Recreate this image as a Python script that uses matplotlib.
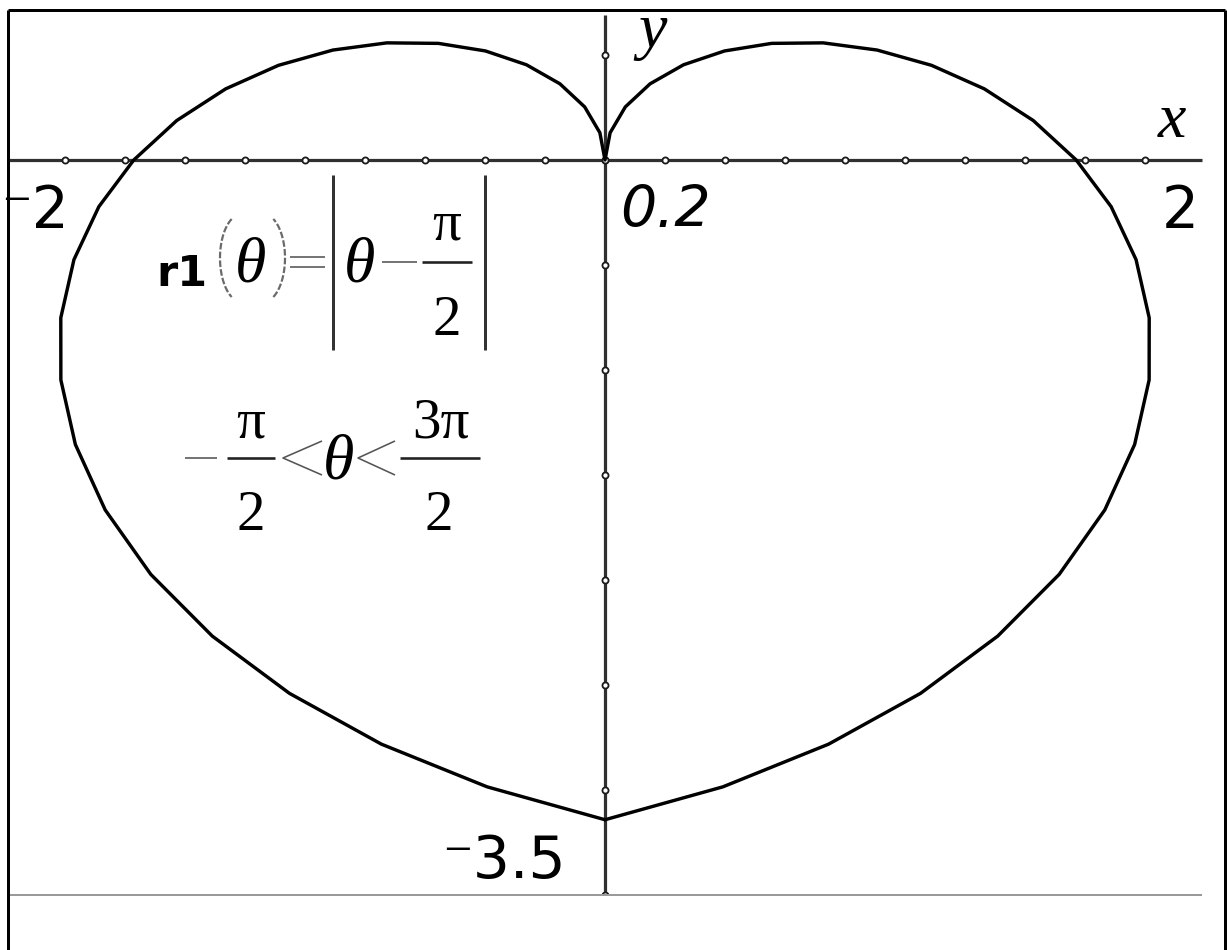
import numpy as np
import matplotlib
matplotlib.use("Agg")
import matplotlib.pyplot as plt
from matplotlib.lines import Line2D

# ---- data: polar curve r1(theta) = |theta - pi/2|, -pi/2 < theta < 3pi/2 ----
theta_min = -np.pi / 2
theta_max = 3 * np.pi / 2
theta_step = np.pi / 24          # calculator default step
x_window = [-2, 2]
y_window = [-3.5, 0.7]
x_scale = 0.2
y_scale = 0.5
x_end_labels = ["\u207b2", "2"]
y_labels = ["0.2", "\u207b3.5"]

theta = np.arange(theta_min, theta_max + theta_step / 2, theta_step)
r = np.abs(theta - np.pi / 2)
xs = r * np.cos(theta)
ys = r * np.sin(theta)

W, H = 1227, 950
fig = plt.figure(figsize=(W / 100, H / 100), dpi=100)
fig.patch.set_facecolor("white")

def fx(x):
    return x / W

def fy(y):
    return 1 - y / H

def pxlw(p):
    return p * 72 / 100

def fline(xx, yy, color="black", lw=2.0, ls="-", z=5):
    fig.add_artist(Line2D([fx(v) for v in xx], [fy(v) for v in yy],
                          color=color, lw=pxlw(lw), ls=ls, zorder=z,
                          solid_capstyle="butt"))

ax = fig.add_axes([5 / W, 55 / H, 1200 / W, 882 / H])
ax.set_xlim(*x_window)
ax.set_ylim(*y_window)
ax.axis("off")

# axes
ax.plot([-1.99, 1.99], [0, 0], color="#303030", lw=pxlw(3.2), zorder=2,
        solid_capstyle="butt")
ax.plot([0, 0], [-3.5, 0.69], color="#303030", lw=pxlw(3.2), zorder=2,
        solid_capstyle="butt")

# ticks (hollow marks on the axes)
xt = np.arange(-1.8, 1.81, x_scale)
ax.plot(xt, np.zeros_like(xt), ls="none", marker="o", ms=4.4, mfc="white",
        mec="#1a1a1a", mew=1.3, zorder=3)
yt = np.arange(y_window[0], 0.51, y_scale)
ax.plot(np.zeros_like(yt), yt, ls="none", marker="o", ms=4.4, mfc="white",
        mec="#1a1a1a", mew=1.3, zorder=3)

# curve
ax.plot(xs, ys, color="black", lw=pxlw(3.4), zorder=4,
        solid_joinstyle="round", solid_capstyle="round")

# frame and bottom divider
fline([8, 8], [10, 950], lw=3, z=10)
fline([8, 1225], [10, 10], lw=3, z=10)
fline([1225, 1225], [10, 950], lw=3, z=10)
fline([10, 1202], [895, 895], color="#9a9a9a", lw=2)

# axis end labels
sans = "DejaVu Sans"
fig.text(fx(1), fy(228), x_end_labels[0], ha="left", va="baseline",
         fontsize=42, family=sans, zorder=6)
fig.text(fx(1199), fy(228), x_end_labels[1], ha="right", va="baseline",
         fontsize=42, family=sans)
fig.text(fx(620), fy(227), y_labels[0], ha="left", va="baseline",
         fontsize=41, family=sans, style="italic")
fig.text(fx(566), fy(878), y_labels[1], ha="right", va="baseline",
         fontsize=42, family=sans)

serif = "Liberation Serif"
fig.text(fx(1172), fy(137), "x", ha="center", va="baseline", fontsize=46,
         family=serif, style="italic")
fig.text(fx(653), fy(47), "y", ha="center", va="baseline", fontsize=46,
         family=serif, style="italic")

# ---- formula r1(θ)=|θ−π/2| ----
fig.text(fx(156), fy(286), "r1", ha="left", va="baseline", fontsize=31,
         family=sans, weight="bold")
# parentheses (gray, dashed)
t = np.linspace(np.radians(118), np.radians(242), 40)
fline(242 + 22 * np.cos(t), 258 - 39 / np.sin(np.radians(118)) * np.sin(t),
      color="#6a6a6a", lw=2.2, ls=(0, (3, 1)))
t2 = np.linspace(np.radians(-62), np.radians(62), 40)
fline(263 + 22 * np.cos(t2), 258 - 39 / np.sin(np.radians(62)) * np.sin(t2),
      color="#6a6a6a", lw=2.2, ls=(0, (3, 1)))
fig.text(fx(251), fy(282), "\u03b8", ha="center", va="baseline", fontsize=46,
         family=serif, style="italic")
fline([290, 325], [257, 257], color="#555555", lw=1.6)
fline([290, 325], [267, 267], color="#555555", lw=1.6)
fline([333, 333], [175, 350], color="#333333", lw=3)
fig.text(fx(360), fy(282), "\u03b8", ha="center", va="baseline", fontsize=46,
         family=serif, style="italic")
fline([382, 417], [262, 262], color="#555555", lw=1.6)
fline([422, 472], [262, 262], color="#222222", lw=2.6)
fig.text(fx(447), fy(240), "\u03c0", ha="center", va="baseline", fontsize=41,
         family=serif)
fig.text(fx(447), fy(335), "2", ha="center", va="baseline", fontsize=41,
         family=serif)
fline([485, 485], [175, 350], color="#333333", lw=3)

# ---- -π/2 < θ < 3π/2 ----
fline([185, 217], [458, 458], color="#555555", lw=1.6)
fline([227, 275], [458, 458], color="#222222", lw=2.6)
fig.text(fx(251), fy(438), "\u03c0", ha="center", va="baseline", fontsize=41,
         family=serif)
fig.text(fx(251), fy(530), "2", ha="center", va="baseline", fontsize=41,
         family=serif)
fline([322, 283, 322], [441, 458, 475], color="#555555", lw=1.6)
fig.text(fx(339), fy(479), "\u03b8", ha="center", va="baseline", fontsize=46,
         family=serif, style="italic")
fline([395, 358, 395], [441, 458, 475], color="#555555", lw=1.6)
fline([400, 480], [458, 458], color="#222222", lw=2.6)
fig.text(fx(441), fy(438), "3\u03c0", ha="center", va="baseline", fontsize=41,
         family=serif)
fig.text(fx(439), fy(530), "2", ha="center", va="baseline", fontsize=41,
         family=serif)

fig.savefig("out.png", dpi=100, facecolor="white")
